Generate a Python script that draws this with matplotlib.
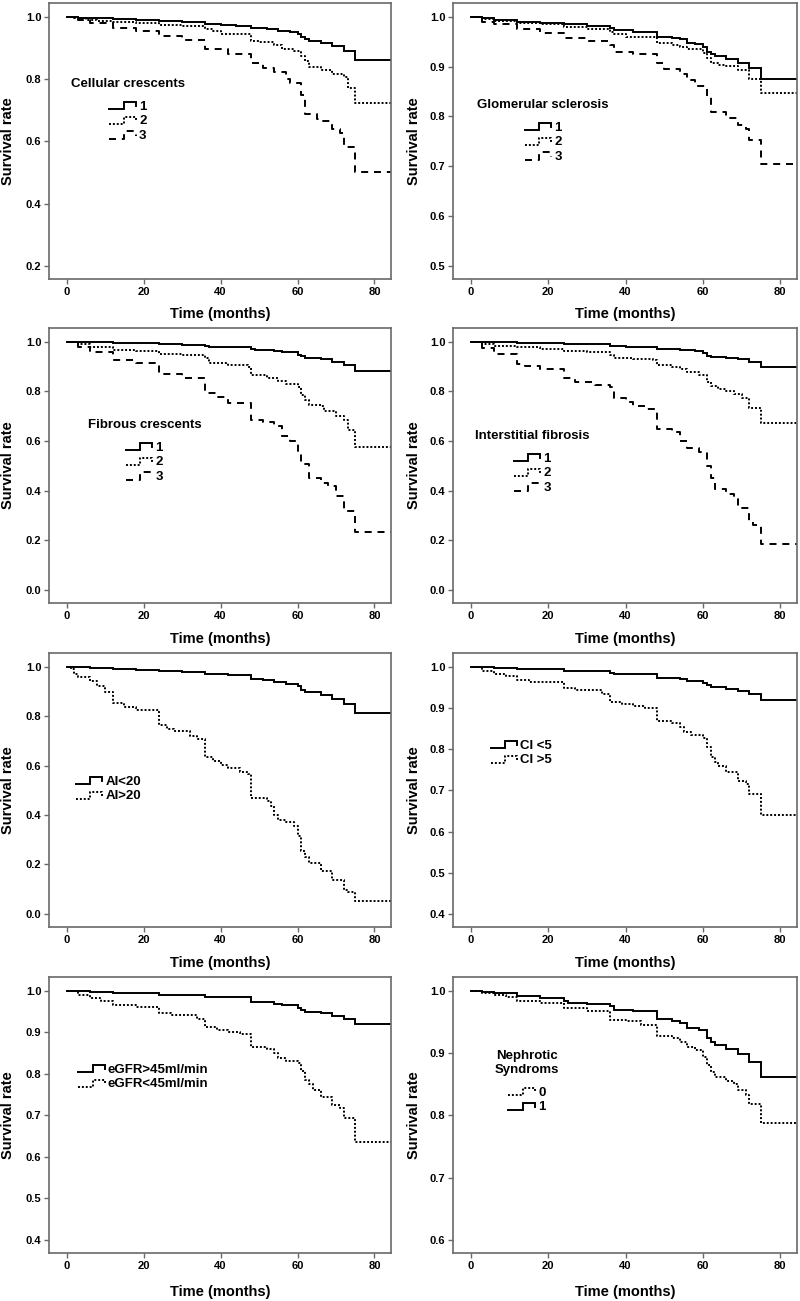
import numpy as np
import matplotlib
matplotlib.use("Agg")
import matplotlib.pyplot as plt
from matplotlib.lines import Line2D
from matplotlib.legend_handler import HandlerBase

plt.rcParams['font.family'] = ['Liberation Sans', 'DejaVu Sans']
plt.rcParams['font.weight'] = 'bold'

# ---------------- data (time in months, survival rate after each step) ----------------
END_T = 84.3

# Cellular crescents
cc_t1 = [0, 3, 8, 12, 18, 24, 30, 36, 40, 44, 48, 52, 55, 58, 60, 61, 62, 63, 66, 69, 72, 75]
cc_s1 = [1.0, 0.998, 0.995, 0.993, 0.99, 0.988, 0.984, 0.977, 0.975, 0.972, 0.963, 0.96, 0.955, 0.95, 0.945, 0.937, 0.929, 0.923, 0.916, 0.907, 0.89, 0.862]
cc_t2 = [0, 2, 5, 8, 12, 18, 24, 30, 36, 38, 40, 48, 50, 54, 56, 59, 61, 62, 63, 66, 69, 72, 73, 75]
cc_s2 = [1.0, 0.995, 0.99, 0.986, 0.983, 0.98, 0.975, 0.97, 0.961, 0.955, 0.944, 0.922, 0.918, 0.91, 0.898, 0.89, 0.873, 0.857, 0.838, 0.828, 0.817, 0.806, 0.773, 0.723]
cc_t3 = [0, 3, 6, 12, 18, 24, 30, 36, 42, 48, 51, 54, 57, 58, 61, 62, 65, 66, 69, 71, 72, 75]
cc_s3 = [1.0, 0.99, 0.98, 0.963, 0.955, 0.939, 0.926, 0.896, 0.881, 0.851, 0.835, 0.824, 0.80, 0.787, 0.75, 0.688, 0.672, 0.664, 0.64, 0.628, 0.583, 0.501]

# Glomerular sclerosis
gs_t1 = [0, 3, 6, 12, 18, 24, 30, 36, 37, 42, 48, 52, 54, 56, 58, 60, 61, 62, 63, 66, 69, 72, 75]
gs_s1 = [1.0, 0.997, 0.993, 0.99, 0.988, 0.985, 0.982, 0.978, 0.973, 0.97, 0.96, 0.957, 0.955, 0.948, 0.945, 0.94, 0.93, 0.925, 0.922, 0.915, 0.908, 0.897, 0.876]
gs_t2 = [0, 3, 6, 12, 18, 24, 30, 36, 37, 40, 48, 52, 54, 56, 60, 61, 62, 64, 66, 69, 72, 75]
gs_s2 = [1.0, 0.996, 0.991, 0.988, 0.985, 0.98, 0.976, 0.97, 0.965, 0.96, 0.947, 0.944, 0.94, 0.935, 0.927, 0.917, 0.907, 0.904, 0.902, 0.893, 0.876, 0.848]
gs_t3 = [0, 3, 6, 12, 18, 24, 30, 36, 37, 42, 48, 50, 54, 56, 58, 61, 62, 66, 69, 71, 72, 75]
gs_s3 = [1.0, 0.99, 0.985, 0.975, 0.967, 0.957, 0.952, 0.944, 0.93, 0.925, 0.907, 0.895, 0.886, 0.873, 0.861, 0.839, 0.809, 0.796, 0.782, 0.774, 0.752, 0.705]

# Fibrous crescents
fc_t1 = [0, 6, 12, 24, 30, 36, 37, 42, 48, 49, 54, 56, 60, 61, 62, 66, 69, 72, 75]
fc_s1 = [1.0, 0.998, 0.995, 0.99, 0.988, 0.985, 0.981, 0.978, 0.973, 0.966, 0.962, 0.958, 0.949, 0.945, 0.935, 0.929, 0.919, 0.906, 0.882]
fc_t2 = [0, 3, 6, 12, 18, 24, 30, 36, 37, 42, 47, 48, 52, 55, 57, 60, 61, 62, 63, 66, 67, 70, 72, 73, 75]
fc_s2 = [1.0, 0.99, 0.981, 0.969, 0.965, 0.952, 0.947, 0.935, 0.915, 0.906, 0.898, 0.868, 0.855, 0.841, 0.83, 0.82, 0.787, 0.767, 0.747, 0.74, 0.72, 0.70, 0.686, 0.646, 0.575]
fc_t3 = [0, 3, 6, 12, 18, 24, 30, 36, 39, 42, 48, 51, 54, 56, 58, 60, 61, 63, 66, 68, 70, 72, 75]
fc_s3 = [1.0, 0.978, 0.958, 0.925, 0.913, 0.871, 0.855, 0.794, 0.778, 0.755, 0.686, 0.677, 0.66, 0.619, 0.602, 0.559, 0.507, 0.45, 0.43, 0.417, 0.38, 0.316, 0.233]

# Interstitial fibrosis
if_t1 = [0, 6, 12, 24, 36, 40, 48, 54, 58, 60, 61, 62, 66, 69, 72, 75]
if_s1 = [1.0, 0.998, 0.995, 0.99, 0.985, 0.98, 0.973, 0.968, 0.962, 0.955, 0.945, 0.94, 0.936, 0.93, 0.919, 0.899]
if_t2 = [0, 3, 6, 12, 18, 24, 30, 36, 37, 42, 47, 48, 52, 54, 56, 59, 61, 62, 64, 66, 68, 70, 72, 75]
if_s2 = [1.0, 0.99, 0.985, 0.979, 0.972, 0.962, 0.958, 0.949, 0.936, 0.93, 0.926, 0.905, 0.897, 0.889, 0.878, 0.868, 0.839, 0.822, 0.808, 0.801, 0.791, 0.772, 0.734, 0.674]
if_t3 = [0, 3, 6, 12, 14, 18, 24, 27, 32, 36, 37, 40, 42, 45, 48, 52, 54, 56, 59, 61, 62, 63, 66, 68, 69, 72, 73, 75]
if_s3 = [1.0, 0.976, 0.952, 0.911, 0.903, 0.891, 0.855, 0.839, 0.828, 0.819, 0.775, 0.758, 0.741, 0.728, 0.647, 0.638, 0.60, 0.571, 0.557, 0.50, 0.452, 0.405, 0.388, 0.365, 0.329, 0.278, 0.26, 0.185]

# Activity index
ai_t1 = [0, 6, 12, 18, 24, 30, 36, 42, 48, 51, 54, 57, 60, 61, 62, 66, 69, 72, 75]
ai_s1 = [1.0, 0.995, 0.99, 0.987, 0.984, 0.978, 0.97, 0.965, 0.95, 0.946, 0.937, 0.932, 0.922, 0.908, 0.898, 0.886, 0.869, 0.848, 0.812]
ai_t2 = [0, 1, 2, 3, 6, 8, 10, 12, 15, 18, 24, 26, 28, 32, 34, 36, 38, 40, 42, 45, 47, 48, 52, 53, 54, 55, 57, 59, 60, 61, 62, 63, 66, 69, 72, 73, 75]
ai_s2 = [1.0, 0.99, 0.973, 0.96, 0.943, 0.922, 0.899, 0.852, 0.839, 0.825, 0.764, 0.748, 0.74, 0.72, 0.709, 0.637, 0.62, 0.603, 0.59, 0.576, 0.565, 0.471, 0.459, 0.435, 0.40, 0.381, 0.37, 0.354, 0.314, 0.253, 0.23, 0.206, 0.175, 0.139, 0.098, 0.09, 0.051]

# Chronicity index
ci_t1 = [0, 6, 12, 24, 36, 37, 48, 54, 56, 60, 61, 62, 66, 69, 72, 75]
ci_s1 = [1.0, 0.997, 0.995, 0.99, 0.985, 0.982, 0.974, 0.97, 0.966, 0.96, 0.955, 0.95, 0.946, 0.941, 0.933, 0.92]
ci_t2 = [0, 3, 6, 9, 12, 15, 24, 27, 34, 36, 39, 42, 45, 48, 52, 54, 55, 57, 60, 61, 62, 63, 64, 66, 69, 71, 72, 75]
ci_s2 = [1.0, 0.99, 0.982, 0.977, 0.968, 0.964, 0.949, 0.943, 0.935, 0.915, 0.909, 0.905, 0.899, 0.869, 0.864, 0.854, 0.842, 0.834, 0.826, 0.806, 0.782, 0.77, 0.759, 0.745, 0.723, 0.715, 0.69, 0.64]

# eGFR
eg_t1 = [0, 6, 12, 24, 36, 48, 54, 56, 60, 61, 62, 66, 69, 72, 75]
eg_s1 = [1.0, 0.997, 0.995, 0.99, 0.985, 0.974, 0.969, 0.965, 0.96, 0.954, 0.95, 0.946, 0.94, 0.933, 0.921]
eg_t2 = [0, 3, 6, 9, 12, 18, 24, 27, 34, 36, 39, 42, 45, 48, 52, 54, 55, 57, 60, 61, 62, 63, 64, 66, 69, 71, 72, 75]
eg_s2 = [1.0, 0.99, 0.982, 0.976, 0.966, 0.961, 0.946, 0.942, 0.932, 0.912, 0.906, 0.90, 0.896, 0.866, 0.86, 0.851, 0.838, 0.832, 0.826, 0.807, 0.786, 0.776, 0.761, 0.745, 0.725, 0.718, 0.693, 0.637]

# Nephrotic syndrome
ns_t0 = [0, 3, 6, 9, 12, 18, 24, 30, 36, 40, 44, 48, 52, 54, 56, 58, 60, 61, 62, 63, 66, 68, 69, 71, 72, 75]
ns_s0 = [1.0, 0.996, 0.993, 0.99, 0.984, 0.981, 0.972, 0.968, 0.954, 0.951, 0.946, 0.928, 0.925, 0.918, 0.91, 0.905, 0.894, 0.881, 0.87, 0.862, 0.856, 0.85, 0.84, 0.833, 0.819, 0.788]
ns_t1 = [0, 3, 6, 12, 18, 24, 25, 30, 36, 37, 42, 48, 52, 54, 56, 59, 61, 62, 63, 66, 69, 72, 75]
ns_s1 = [1.0, 0.998, 0.996, 0.992, 0.988, 0.984, 0.981, 0.979, 0.975, 0.97, 0.967, 0.955, 0.952, 0.948, 0.941, 0.937, 0.925, 0.918, 0.913, 0.907, 0.899, 0.885, 0.862]

# titles / labels
titles = ["Cellular crescents", "Glomerular sclerosis", "Fibrous crescents", "Interstitial fibrosis",
          None, None, None, "Nephrotic\nSyndroms"]
labels3 = ["1", "2", "3"]
labels_ai = ["AI<20", "AI>20"]
labels_ci = ["CI <5", "CI >5"]
labels_eg = ["eGFR>45ml/min", "eGFR<45ml/min"]
labels_ns = ["0", "1"]

# ---------------- styling ----------------
SOLID = '-'
DOT = (0, (1.0, 1.0))
DASH = (0, (3.6, 3.0))
LW = 1.4
FRAME = '#6a6a6a'

panels = [
    dict(curves=[(cc_t1, cc_s1, SOLID), (cc_t2, cc_s2, DOT), (cc_t3, cc_s3, DASH)], labels=labels3,
         title=titles[0], ymin=0.2, step=0.2, leg=(0.231, 0.612)),
    dict(curves=[(gs_t1, gs_s1, SOLID), (gs_t2, gs_s2, DOT), (gs_t3, gs_s3, DASH)], labels=labels3,
         title=titles[1], ymin=0.5, step=0.1, leg=(0.262, 0.536)),
    dict(curves=[(fc_t1, fc_s1, SOLID), (fc_t2, fc_s2, DOT), (fc_t3, fc_s3, DASH)], labels=labels3,
         title=titles[2], ymin=0.0, step=0.2, leg=(0.279, 0.553)),
    dict(curves=[(if_t1, if_s1, SOLID), (if_t2, if_s2, DOT), (if_t3, if_s3, DASH)], labels=labels3,
         title=titles[3], ymin=0.0, step=0.2, leg=(0.231, 0.513)),
    dict(curves=[(ai_t1, ai_s1, SOLID), (ai_t2, ai_s2, DOT)], labels=labels_ai,
         title=titles[4], ymin=0.0, step=0.2, leg=(0.174, 0.505)),
    dict(curves=[(ci_t1, ci_s1, SOLID), (ci_t2, ci_s2, DOT)], labels=labels_ci,
         title=titles[5], ymin=0.4, step=0.1, leg=(0.199, 0.637)),
    dict(curves=[(eg_t1, eg_s1, SOLID), (eg_t2, eg_s2, DOT)], labels=labels_eg,
         title=titles[6], ymin=0.4, step=0.1, leg=(0.276, 0.639)),
    dict(curves=[(ns_t0, ns_s0, DOT), (ns_t1, ns_s1, SOLID)], labels=labels_ns,
         title=titles[7], ymin=0.6, step=0.1, leg=(0.215, 0.621)),
]


class StepHandler(HandlerBase):
    def create_artists(self, legend, orig_handle, xdescent, ydescent, width, height, fontsize, trans):
        fx = np.array([0.0, 0.55, 0.55, 1.0, 1.0])
        fy = np.array([0.12, 0.12, 0.78, 0.78, 0.4])
        line = Line2D(fx * width - xdescent, fy * height - ydescent)
        self.update_prop(line, orig_handle, legend)
        line.set_transform(trans)
        return [line]


W, H = 800, 1301
fig = plt.figure(figsize=(W / 100, H / 100), dpi=100)
cols = [(49, 391), (453, 797)]
rows = [(3, 279), (328, 603), (653, 927), (977, 1253)]
xlab_off = [-0.103, -0.106, -0.106, -0.116]

for i, p in enumerate(panels):
    r, c = divmod(i, 2)
    x0, x1 = cols[c]
    y0, y1 = rows[r]
    ax = fig.add_axes([x0 / W, 1 - y1 / H, (x1 - x0) / W, (y1 - y0) / H])
    handles = []
    for (t, s, ls), lab in zip(p['curves'], p['labels']):
        tt = np.append(np.asarray(t, float), END_T)
        ss = np.append(np.asarray(s, float), s[-1])
        ln, = ax.step(tt, ss, where='post', color='black', lw=LW, linestyle=ls,
                      label=lab, solid_joinstyle='miter')
        handles.append(ln)
    rng = 1.0 - p['ymin']
    ax.set_ylim(p['ymin'] - 0.053 * rng, 1.0 + 0.056 * rng)
    ax.set_xlim(-4.6, 84.3)
    ax.set_yticks(np.round(np.arange(p['ymin'], 1.0001, p['step']), 2))
    ax.yaxis.set_major_formatter(matplotlib.ticker.FormatStrFormatter('%.1f'))
    ax.set_xticks([0, 20, 40, 60, 80])
    for sp in ax.spines.values():
        sp.set_color(FRAME)
        sp.set_linewidth(1.2)
    ax.tick_params(direction='out', length=3.5, width=1, color=FRAME, labelsize=8, pad=2)
    for tl in ax.get_xticklabels() + ax.get_yticklabels():
        tl.set_fontweight('bold')
    ax.set_ylabel('Survival rate', fontsize=10.5, fontweight='bold')
    ax.set_xlabel('Time (months)', fontsize=10.5, fontweight='bold')
    ax.yaxis.set_label_coords(-0.099 if c == 0 else -0.093, 0.5)
    ax.xaxis.set_label_coords(0.5, xlab_off[r])
    ax.xaxis.label.set_va('top')
    leg = ax.legend(handles=handles, loc='center', bbox_to_anchor=p['leg'], frameon=False,
                    title=p['title'], fontsize=9.5, title_fontsize=9.5,
                    handlelength=2.0, handleheight=0.9, handletextpad=0.25,
                    labelspacing=0.12, borderpad=0.2,
                    handler_map={Line2D: StepHandler()})
    if p['title']:
        leg.get_title().set_fontweight('bold')
        leg.get_title().set_multialignment('center')
        leg._legend_box.sep = 7

fig.savefig('out.png', dpi=100)
